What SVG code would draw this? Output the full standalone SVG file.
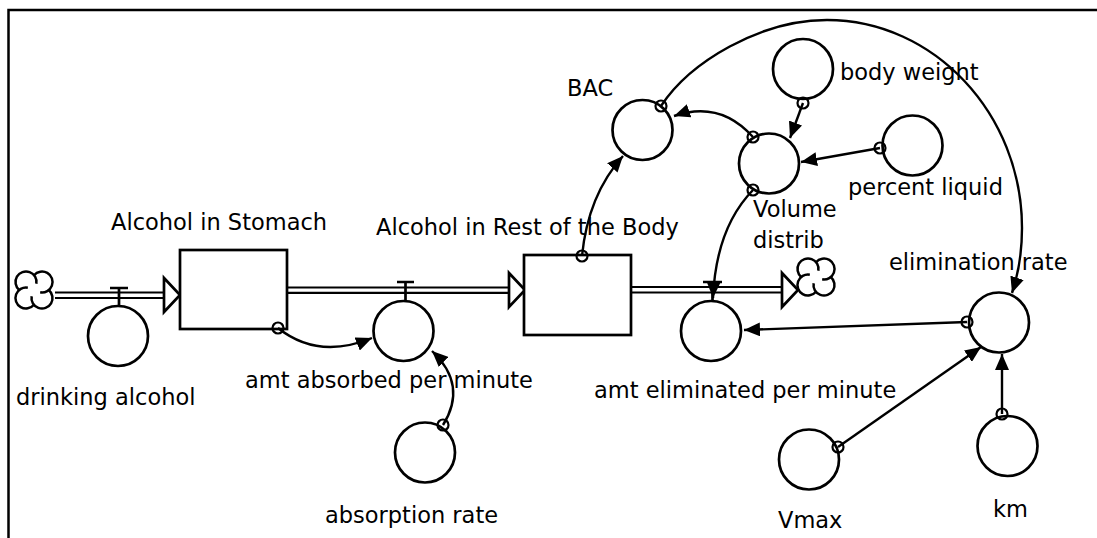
<svg xmlns="http://www.w3.org/2000/svg" xmlns:xlink="http://www.w3.org/1999/xlink" width="1097" height="538" viewBox="0 0 1097 538">
<style>
text{font-family:"DejaVu Sans","Liberation Sans",sans-serif;font-size:22.5px;fill:#000}
.node{fill:#fff;stroke:#000;stroke-width:2.7}
.link{fill:none;stroke:#000;stroke-width:2.4;marker-end:url(#arr)}
.orig{fill:none;stroke:#000;stroke-width:2.2}
.pipe{fill:none;stroke:#000;stroke-width:2.2}
.valve{fill:none;stroke:#000;stroke-width:2.7}
.cl{fill:none;stroke:#000;stroke-width:2.5}
.tri{fill:#fff;stroke:#000;stroke-width:2.7;stroke-linejoin:miter}
</style>
<defs>
<marker id="arr" markerWidth="17" markerHeight="14" refX="16" refY="7" orient="auto" markerUnits="userSpaceOnUse"><path d="M0,0 L16,7 L0,14 Z" fill="#000"/></marker>
<g id="lobe"><path d="M-14.75,0 A10.5,10.5 0 1 1 2.34,-6.18" class="cl"/></g>
<g id="cloud"><use xlink:href="#lobe"/><use xlink:href="#lobe" transform="rotate(90)"/><use xlink:href="#lobe" transform="rotate(180)"/><use xlink:href="#lobe" transform="rotate(270)"/></g>
</defs>
<rect width="1097" height="538" fill="#fff"/>
<path d="M8.5,538 V10 H1097" fill="none" stroke="#000" stroke-width="2.5"/>

<g id="flows">
<use xlink:href="#cloud" transform="translate(34,290)"/>
<path class="pipe" d="M55,292.5 H165 M55,298 H165"/>
<path class="tri" d="M164,278 L180,295 L164,312 Z"/>
<path class="pipe" d="M287,287.5 H509 M287,292.8 H509"/>
<path class="tri" d="M509,273 L525,290 L509,307 Z"/>
<path class="pipe" d="M631,287 H783 M631,292.5 H783"/>
<path class="tri" d="M782,273 L798,290 L782,307 Z"/>
<use xlink:href="#cloud" transform="translate(816,277)"/>
</g>

<g id="stock-stomach"><rect class="node" x="180" y="250" width="107" height="79"/><text x="111" y="230">Alcohol in Stomach</text></g>
<g id="stock-body"><rect class="node" x="524" y="255" width="107" height="80"/><text x="376" y="235">Alcohol in Rest of the Body</text></g>

<g id="drinking-alcohol"><path class="valve" d="M110,288 H128 M119,288 V306"/><circle class="node" cx="118" cy="336" r="30"/><text x="16" y="405">drinking alcohol</text></g>
<g id="amt-absorbed"><path class="valve" d="M397,282 H414 M405.5,282 V301"/><circle class="node" cx="403.5" cy="331" r="30"/><text x="245" y="388">amt absorbed per minute</text></g>
<g id="amt-eliminated"><path class="valve" d="M703,282 H722 M712.5,282 V301"/><circle class="node" cx="711" cy="331" r="30"/><text x="594" y="398">amt eliminated per minute</text></g>
<g id="absorption-rate"><circle class="node" cx="425" cy="452.5" r="30"/><text x="325" y="523">absorption rate</text></g>
<g id="bac"><circle class="node" cx="642.5" cy="130" r="30"/><text x="567" y="96">BAC</text></g>
<g id="body-weight"><circle class="node" cx="803" cy="69" r="30"/><text x="840" y="80">body weight</text></g>
<g id="volume-distrib"><circle class="node" cx="769" cy="163.5" r="30"/><text x="753" y="217">Volume</text><text x="753" y="248">distrib</text></g>
<g id="percent-liquid"><circle class="node" cx="912.5" cy="145.5" r="30"/><text x="848" y="195">percent liquid</text></g>
<g id="elimination-rate"><circle class="node" cx="999" cy="322.5" r="30"/><text x="889" y="270">elimination rate</text></g>
<g id="vmax"><circle class="node" cx="809" cy="459.5" r="30"/><text x="778" y="528">Vmax</text></g>
<g id="km"><circle class="node" cx="1007.5" cy="446" r="30"/><text x="993" y="517">km</text></g>

<g id="connectors">
<path class="link" d="M278,328 Q318,360 372,338"/><circle class="orig" cx="278" cy="328" r="5.5"/>
<path class="link" d="M443,425 Q468,385 432,351"/><circle class="orig" cx="443" cy="425" r="5.5"/>
<path class="link" d="M582,256 Q588,195 623,156"/><circle class="orig" cx="582" cy="256" r="5.5"/>
<path class="link" d="M753,137 Q720,100 674,116"/><circle class="orig" cx="753" cy="137" r="5.5"/>
<path class="link" d="M803,103 L790,138"/><circle class="orig" cx="803" cy="103" r="5.5"/>
<path class="link" d="M880,148 L801,162"/><circle class="orig" cx="880" cy="148" r="5.5"/>
<path class="link" d="M753,190 Q716,228 713,298"/><circle class="orig" cx="753" cy="190" r="5.5"/>
<path class="link" d="M661,106 C690,62 760,20 827,20 C934,20 1022,114 1022,228 C1022,255 1018,275 1012,293"/><circle class="orig" cx="661" cy="106" r="5.5"/>
<path class="link" d="M967,322 L744,330"/><circle class="orig" cx="967" cy="322" r="5.5"/>
<path class="link" d="M838,447 L981,347"/><circle class="orig" cx="838" cy="447" r="5.5"/>
<path class="link" d="M1002,414 L1002,354"/><circle class="orig" cx="1002" cy="414" r="5.5"/>
</g>
</svg>
